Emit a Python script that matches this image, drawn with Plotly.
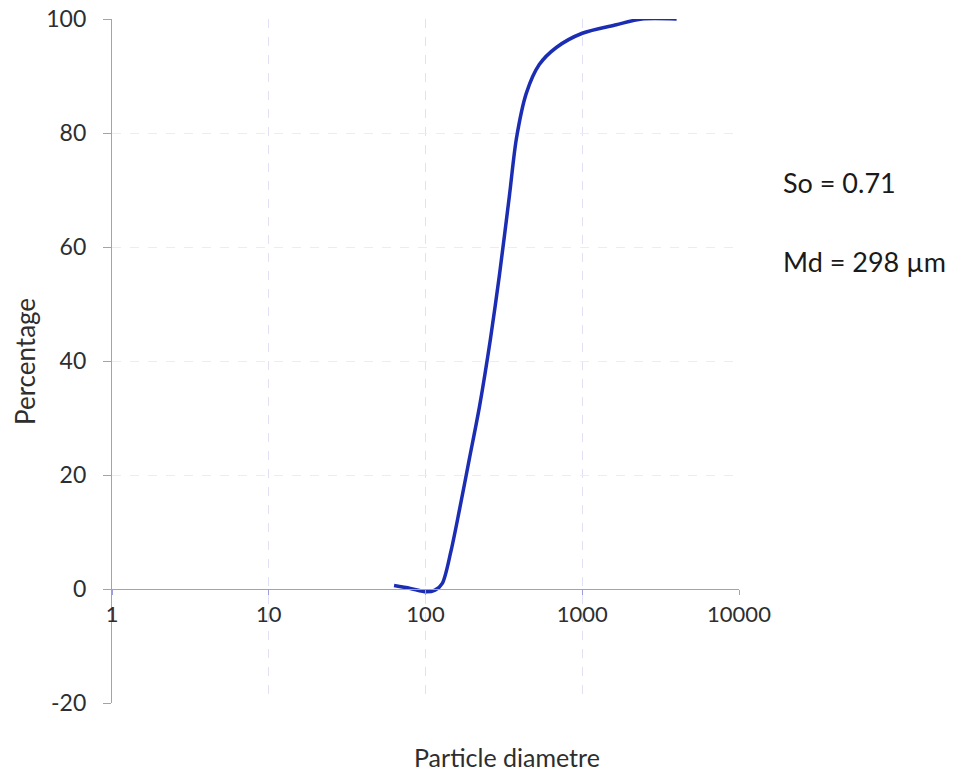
import plotly.graph_objects as go

diameter = [63, 80, 101, 115, 128, 145, 165, 191, 221, 260, 296, 343, 380, 440, 532, 683, 1000, 1650, 2400, 4000]
percentage = [0.6, 0.1, -0.5, -0.2, 1.0, 6.5, 14, 23, 32, 44, 55, 69, 79, 87, 92, 95, 97.5, 99, 100, 100]

x_ticks = [1, 10, 100, 1000, 10000]
x_tick_labels = ["1", "10", "100", "1000", "10000"]
y_ticks = [-20, 0, 20, 40, 60, 80, 100]
y_tick_labels = ["-20", "0", "20", "40", "60", "80", "100"]

stats_lines = ["So = 0.71", "Md = 298 µm"]

FONT = "Lato, Carlito, 'Liberation Sans', sans-serif"
AXIS_COLOR = "#9c9ce0"
TEXT = "#2e2e2e"

fig = go.Figure()
fig.add_trace(go.Scatter(
    x=diameter, y=percentage, mode="lines",
    line=dict(color="#1b2db3", width=3.5, shape="spline", smoothing=0.8),
    showlegend=False, hoverinfo="x+y",
))

fig.update_layout(
    width=961, height=773,
    margin=dict(l=112, r=222, t=19, b=70),
    paper_bgcolor="white", plot_bgcolor="white",
    font=dict(family=FONT, size=22, color=TEXT),
    showlegend=False,
)

fig.update_xaxes(
    type="log", range=[0, 4],
    tickvals=x_ticks, ticktext=x_tick_labels,
    anchor="free", position=20 / 120,
    showline=True, linecolor=AXIS_COLOR, linewidth=1.2,
    ticks="outside", ticklen=5, tickcolor=AXIS_COLOR,
    showgrid=True, gridcolor="#e2e0f4", griddash="dash", gridwidth=1,
    zeroline=False, automargin=False,
    tickfont=dict(family=FONT, size=22, color=TEXT),
    title=None,
)
fig.update_yaxes(
    range=[-20, 100], tickvals=y_ticks, ticktext=y_tick_labels,
    showline=True, linecolor=AXIS_COLOR, linewidth=1.2,
    ticks="outside", ticklen=8, tickcolor=AXIS_COLOR,
    ticklabelstandoff=12,
    showgrid=True, gridcolor="#ececf2", griddash="dash", gridwidth=1,
    zeroline=False, automargin=False,
    tickfont=dict(family=FONT, size=23, color=TEXT),
    title=None,
)

fig.add_annotation(
    text="Percentage", xref="paper", yref="paper",
    x=(25 - 112) / (739 - 112), y=1 - (362 - 19) / (703 - 19),
    showarrow=False, textangle=-90, xanchor="center", yanchor="middle",
    borderpad=0,
    font=dict(family=FONT, size=26, color=TEXT),
)

fig.add_annotation(
    text="Particle diametre", xref="paper", yref="paper",
    x=(507 - 112) / (739 - 112), y=-(757 - 703) / (703 - 19),
    showarrow=False, xanchor="center", yanchor="middle",
    borderpad=0,
    font=dict(family=FONT, size=25, color=TEXT),
)

for i, line in enumerate(stats_lines):
    fig.add_annotation(
        text=line, xref="paper", yref="paper",
        x=(781 - 112) / (739 - 112), y=1 - ([183, 261][i] - 19) / (703 - 19),
        showarrow=False, xanchor="left", yanchor="middle",
        font=dict(family=FONT, size=27, color="#1a1a1a"),
    )

fig.write_html("out.html")
